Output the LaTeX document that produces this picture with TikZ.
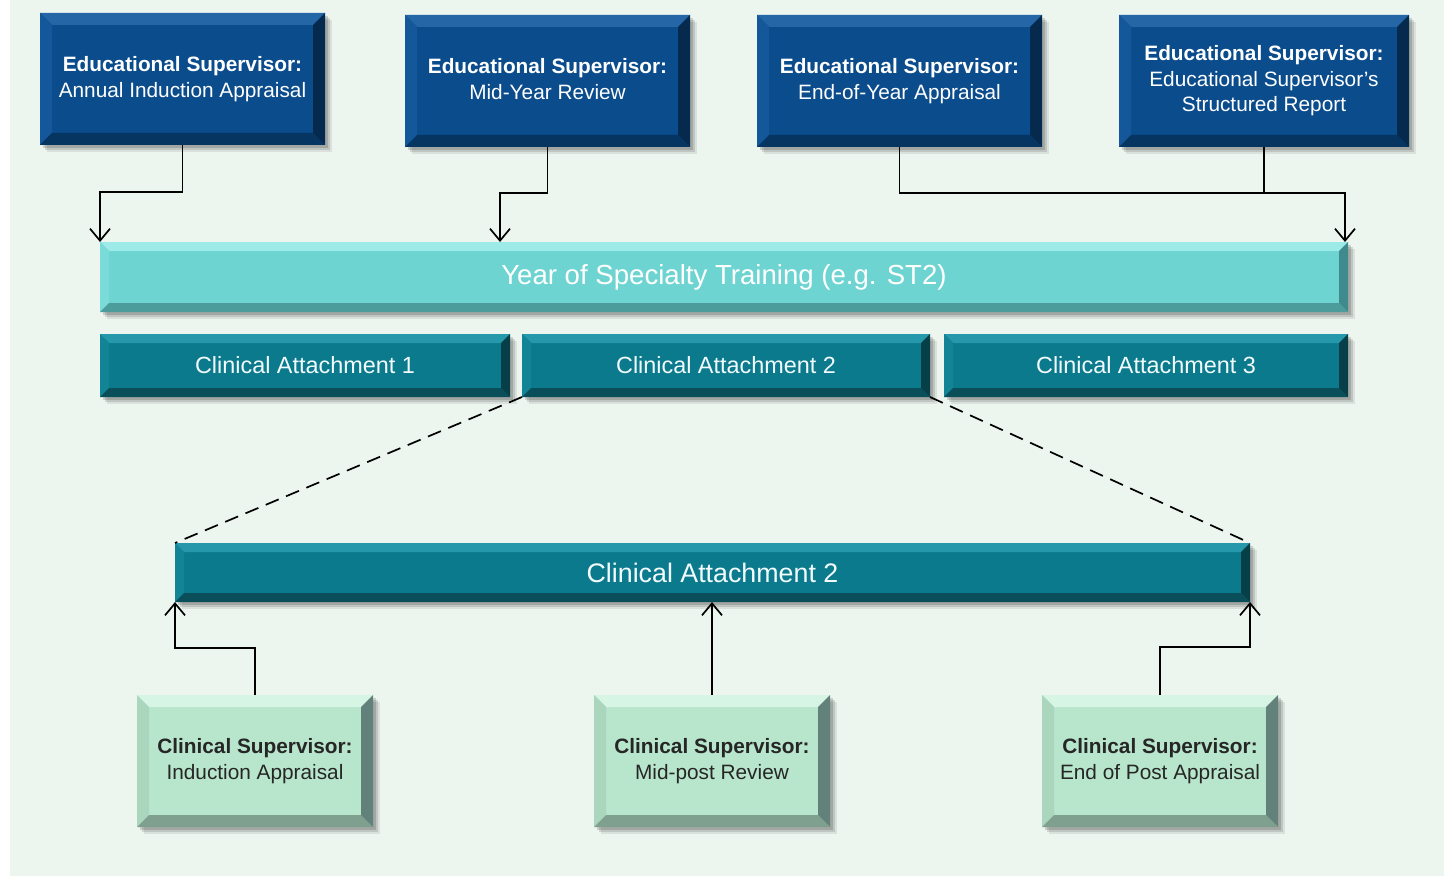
\documentclass[tikz,border=0pt]{standalone}
\usepackage{fontspec}
\setmainfont{Liberation Sans}
\usetikzlibrary{arrows.meta,shadows}
\definecolor{panel}{HTML}{EDF5EF}
\definecolor{esbase}{HTML}{0B4C8C}
\definecolor{estop}{HTML}{2466A6}
\definecolor{esleft}{HTML}{14579A}
\definecolor{esbot}{HTML}{073562}
\definecolor{esright}{HTML}{052A4E}
\definecolor{yrbase}{HTML}{6ED4D2}
\definecolor{yrtop}{HTML}{9CEBE9}
\definecolor{yrleft}{HTML}{7ADBD9}
\definecolor{yrbot}{HTML}{4D9C9C}
\definecolor{yrright}{HTML}{3E8A8C}
\definecolor{cabase}{HTML}{0A7A8C}
\definecolor{catop}{HTML}{2599AB}
\definecolor{caleft}{HTML}{128496}
\definecolor{cabot}{HTML}{0A4E5A}
\definecolor{caright}{HTML}{073F49}
\definecolor{csbase}{HTML}{B8E6CC}
\definecolor{cstop}{HTML}{D6F5E4}
\definecolor{csleft}{HTML}{A9D6BD}
\definecolor{csbot}{HTML}{7FA08E}
\definecolor{csright}{HTML}{62817A}
\tikzset{
  softshadow/.style={
    drop shadow={shadow xshift=3.5pt, shadow yshift=-3.5pt, opacity=0.08, fill=black},
    drop shadow={shadow xshift=2.5pt, shadow yshift=-2.5pt, opacity=0.12, fill=black},
    drop shadow={shadow xshift=1.5pt, shadow yshift=-1.5pt, opacity=0.15, fill=black}},
  bevel/.style n args={6}{fill=#1, draw=none, outer sep=0pt, inner sep=0pt, softshadow,
    path picture={
      \fill[#2] (path picture bounding box.north west) -- (path picture bounding box.north east)
        -- ([shift={(-#6,-#6)}]path picture bounding box.north east)
        -- ([shift={(#6,-#6)}]path picture bounding box.north west) -- cycle;
      \fill[#3] (path picture bounding box.north west) -- ([shift={(#6,-#6)}]path picture bounding box.north west)
        -- ([shift={(#6,#6)}]path picture bounding box.south west)
        -- (path picture bounding box.south west) -- cycle;
      \fill[#4] (path picture bounding box.south west) -- (path picture bounding box.south east)
        -- ([shift={(-#6,#6)}]path picture bounding box.south east)
        -- ([shift={(#6,#6)}]path picture bounding box.south west) -- cycle;
      \fill[#5] (path picture bounding box.north east) -- ([shift={(-#6,-#6)}]path picture bounding box.north east)
        -- ([shift={(-#6,#6)}]path picture bounding box.south east)
        -- (path picture bounding box.south east) -- cycle;
    }},
  esbox/.style={bevel={esbase}{estop}{esleft}{esbot}{esright}{6pt},
    minimum width=142.5pt, minimum height=66pt, text=white, align=center,
    font=\fontsize{10.4}{12.8}\selectfont},
  yrbox/.style={bevel={yrbase}{yrtop}{yrleft}{yrbot}{yrright}{4.5pt},
    minimum width=624pt, minimum height=35pt, text=white,
    font=\fontsize{13.8}{16}\selectfont},
  cabox/.style={bevel={cabase}{catop}{caleft}{cabot}{caright}{4.5pt},
    minimum height=31.5pt, text=white!95!cyan,
    font=\fontsize{11.7}{14}\selectfont},
  csbox/.style={bevel={csbase}{cstop}{csleft}{csbot}{csright}{6pt},
    minimum width=118pt, minimum height=66pt, text=black!85, align=center,
    font=\fontsize{10.4}{12.8}\selectfont},
  conn/.style={draw=black, line width=0.85pt, -{Straight Barb[length=6pt,width=10pt,line width=0.85pt]}},
  plainconn/.style={draw=black, line width=0.85pt},
  dashconn/.style={draw=black, line width=0.85pt, dashed, dash pattern=on 7pt off 4pt}
}
\begin{document}
\begin{tikzpicture}[x=0.5pt,y=-0.5pt]
\useasboundingbox (0,0) rectangle (1449,877);
\fill[white] (0,0) rectangle (1449,877);
\fill[panel] (10,0) rectangle (1444,876);

% top row
\node[esbox] (es1) at (182.5,79) {\textbf{Educational Supervisor:}\\Annual Induction Appraisal};
\node[esbox] (es2) at (547.5,81) {\textbf{Educational Supervisor:}\\Mid-Year Review\vphantom{p}};
\node[esbox] (es3) at (899.5,81) {\textbf{Educational Supervisor:}\\End-of-Year Appraisal};
\node[esbox, minimum width=145pt] (es4) at (1264,81) {\textbf{Educational Supervisor:}\\Educational Supervisor's\\Structured Report};

% year bar
\node[yrbox] (year) at (724,277) {Year of Specialty Training (e.g. ST2)};

% attachments
\node[cabox, minimum width=205pt] (ca1) at (305,365.5) {Clinical Attachment 1};
\node[cabox, minimum width=204pt] (ca2) at (726,365.5) {Clinical Attachment 2};
\node[cabox, minimum width=202pt] (ca3) at (1146,365.5) {Clinical Attachment 3};

% expanded attachment
\node[cabox, minimum width=537.5pt, minimum height=29.5pt, font=\fontsize{13.4}{16}\selectfont] (big) at (712.5,572.5) {Clinical Attachment 2};

% clinical supervisors
\node[csbox] (cs1) at (255,761) {\textbf{Clinical Supervisor:}\\Induction Appraisal};
\node[csbox] (cs2) at (712,761) {\textbf{Clinical Supervisor:}\\Mid-post Review};
\node[csbox] (cs3) at (1160,761) {\textbf{Clinical Supervisor:}\\End of Post Appraisal};

% connectors top
\draw[conn] (es1.south) -- ++(0,47) -| (year.north west);
\draw[conn] (es2.south) -- ++(0,46) -| ([xshift=-23.75pt]es2.south |- year.north);
\draw[conn] (es3.south) -- ++(0,46) -| ([xshift=-1.5pt]year.north east);
\draw[plainconn] (es4.south) -- ++(0,46);

% dashed zoom lines
\draw[dashconn] (ca2.south west) -- (big.north west);
\draw[dashconn] (ca2.south east) -- (big.north east);

% connectors bottom
\draw[conn] (cs1.north) -- ++(0,-47) -| (big.south west);
\draw[conn] (cs2.north) -- (cs2.north |- big.south);
\draw[conn] (cs3.north) -- ++(0,-48) -| (big.south east);
\end{tikzpicture}
\end{document}
